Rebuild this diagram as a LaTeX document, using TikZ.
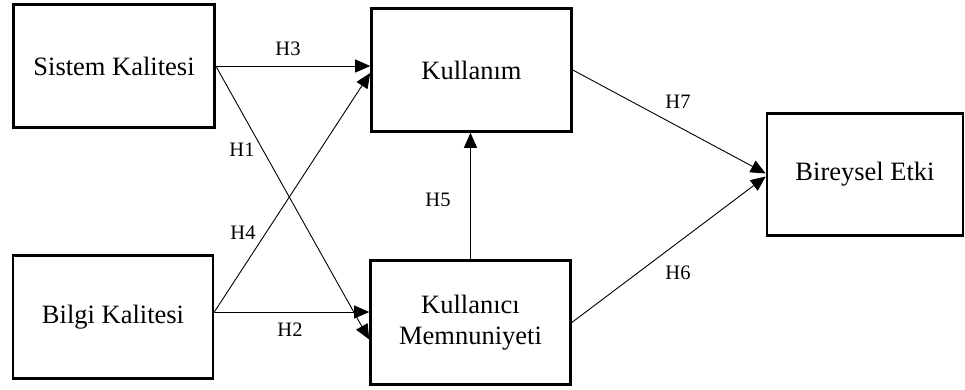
\documentclass[tikz,border=0pt]{standalone}
\usepackage{fontspec}
\setmainfont{Liberation Serif}
\usetikzlibrary{arrows.meta}

\tikzset{
  construct/.style={draw=black, line width=2.6pt, fill=white, align=center,
    inner sep=0pt, font=\fontsize{26.5}{31}\selectfont},
  path/.style={draw=black, line width=0.9pt,
    -{Triangle[length=15pt, width=13pt]}},
  hyp/.style={font=\fontsize{20.5}{23}\selectfont, inner sep=0pt}
}

\begin{document}
\begin{tikzpicture}[x=1pt, y=-1pt]
  \useasboundingbox (0,0) rectangle (965,389);

  % constructs of the model
  \node[construct, minimum width=201pt, minimum height=123pt] (sk) at (114,66) {Sistem Kalitesi};
  \node[construct, minimum width=200pt, minimum height=123pt] (bk) at (113,317) {Bilgi Kalitesi};
  \node[construct, minimum width=200pt, minimum height=123pt] (ku) at (471.5,70) {Kullanım};
  \node[construct, minimum width=200pt, minimum height=124pt] (km) at (470.5,322.5) {Kullanıcı\\Memnuniyeti};
  \node[construct, minimum width=196pt, minimum height=122pt] (be) at (865,174.5) {Bireysel Etki};

  % hypothesised paths
  \coordinate (skout) at (sk.east);
  \coordinate (bkout) at ([yshift=5pt]bk.east);
  \draw[path] (skout) -- (skout -| ku.west);
  \draw[path] (skout) -- ([yshift=-17pt]km.west);
  \draw[path] (bkout) -- ([yshift=-3pt]ku.west);
  \draw[path] (bkout) -- (bkout -| km.west);
  \draw[path] (km.north) -- (km.north |- ku.south);
  \draw[path] (ku.east) -- ([yshift=1pt]be.west);
  \draw[path] (km.east) -- ([yshift=-2pt]be.west);

  % path labels
  \node[hyp] (h3) at (288,49) {H3};
  \node[hyp] (h1) at (242,150) {H1};
  \node[hyp] (h4) at (243,233) {H4};
  \node[hyp] (h2) at (290,330) {H2};
  \node[hyp] (h5) at (438,200) {H5};
  \node[hyp] (h7) at (678,102) {H7};
  \node[hyp] (h6) at (678,273) {H6};
\end{tikzpicture}
\end{document}
